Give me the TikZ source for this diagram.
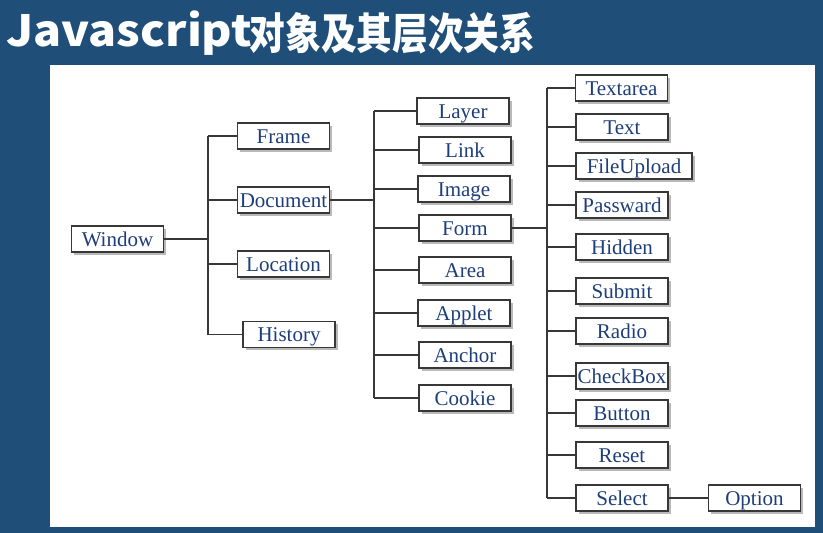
\documentclass[tikz,border=0pt]{standalone}
\usepackage{fontspec}
\setmainfont{Liberation Serif}
\newfontfamily\cjk{Noto Sans CJK SC}
\usetikzlibrary{shadows}
\definecolor{bgblue}{RGB}{31,78,121}
\definecolor{txtblue}{RGB}{30,62,122}
\definecolor{linegray}{RGB}{55,55,55}
\tikzset{
  obj/.style={draw=linegray, line width=1.1pt, fill=white, minimum width=92pt,
    minimum height=26pt, inner sep=0pt, text=txtblue, text height=14pt, text depth=0pt,
    font=\fontsize{21}{21}\selectfont,
    drop shadow={shadow xshift=2.5pt, shadow yshift=-2.5pt, fill=gray!55, opacity=1}},
  conn/.style={draw=linegray, line width=1.1pt}
}
\begin{document}
\begin{tikzpicture}[x=1pt,y=-1pt]
\fill[bgblue] (0,0) rectangle (823,533);
\useasboundingbox (0,0) rectangle (823,533);
\fill[white] (50,65) rectangle (815,527);
\node[anchor=base west, text=white, font=\cjk\bfseries\fontsize{43}{43}\selectfont, inner sep=0pt] (title) at (6,46)
  {\scalebox{1.08}[1]{Javascript}\kern-2pt\raisebox{-3pt}{\scalebox{0.83}[1]{对象及其层次关系}}};

% level 1
\node[obj] (n-window) at (117.5,239) {Window};
% level 2
\node[obj] (n-frame) at (283.5,136) {Frame};
\node[obj] (n-document) at (283.5,200) {Document};
\node[obj] (n-location) at (283.5,264) {Location};
\node[obj] (n-history) at (289,334.5) {History};
% level 3
\node[obj] (n-layer) at (463,111) {Layer};
\node[obj] (n-link) at (465,150) {Link};
\node[obj] (n-image) at (464,189) {Image};
\node[obj] (n-form) at (465,228) {Form};
\node[obj] (n-area) at (465,270) {Area};
\node[obj] (n-applet) at (464,313) {Applet};
\node[obj] (n-anchor) at (465,355) {Anchor};
\node[obj] (n-cookie) at (465,398) {Cookie};
% level 4
\node[obj] (n-textarea) at (621.5,88) {Textarea};
\node[obj] (n-text) at (622,127) {Text};
\node[obj, minimum width=116pt] (n-fileupload) at (634,166) {FileUpload};
\node[obj] (n-passward) at (622,205) {Passward};
\node[obj] (n-hidden) at (622,247) {Hidden};
\node[obj] (n-submit) at (622,291) {Submit};
\node[obj] (n-radio) at (622,331) {Radio};
\node[obj] (n-checkbox) at (622,376) {CheckBox};
\node[obj] (n-button) at (622,413) {Button};
\node[obj] (n-reset) at (622,455) {Reset};
\node[obj] (n-select) at (622,498) {Select};
% level 5
\node[obj] (n-option) at (754.5,498) {Option};

% trunks
\coordinate (t1) at (208,0);
\coordinate (t2) at (374,0);
\coordinate (t3) at (547,0);

\draw[conn] (n-window.east) -- (t1 |- n-window.east);
\draw[conn] (t1 |- n-frame.west) -- (t1 |- n-history.west);
\foreach \n in {frame,document,location,history}
  \draw[conn] (t1 |- n-\n.west) -- (n-\n.west);

\draw[conn] (n-document.east) -- (t2 |- n-document.east);
\draw[conn] (t2 |- n-layer.west) -- (t2 |- n-cookie.west);
\foreach \n in {layer,link,image,form,area,applet,anchor,cookie}
  \draw[conn] (t2 |- n-\n.west) -- (n-\n.west);

\draw[conn] (n-form.east) -- (t3 |- n-form.east);
\draw[conn] (t3 |- n-textarea.west) -- (t3 |- n-select.west);
\foreach \n in {textarea,text,fileupload,passward,hidden,submit,radio,checkbox,button,reset,select}
  \draw[conn] (t3 |- n-\n.west) -- (n-\n.west);

\draw[conn] (n-select.east) -- (n-option.west);
\end{tikzpicture}
\end{document}
